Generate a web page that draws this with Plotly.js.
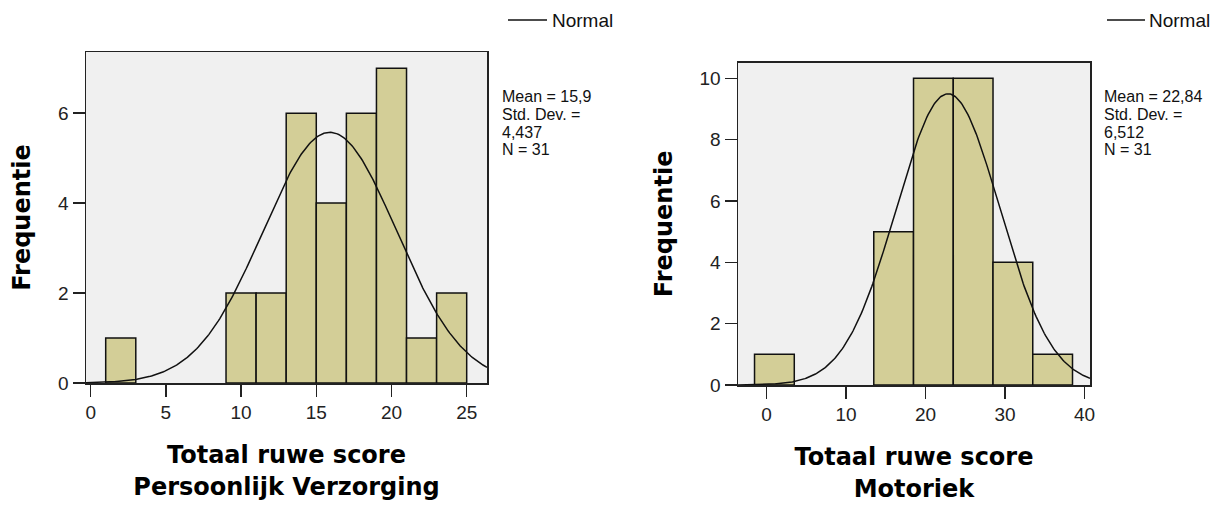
<!DOCTYPE html>
<html>
<head>
<meta charset="utf-8">
<script src="https://cdn.plot.ly/plotly-3.0.1.min.js"></script>
<style>html,body{margin:0;padding:0;background:#fff;}#chart{width:1225px;height:507px;}</style>
</head>
<body>
<div id="chart"></div>
<script>
// ---- data ----
const leftBinStarts = [1, 9, 11, 13, 15, 17, 19, 21, 23];
const leftCounts    = [1, 2, 2, 6, 4, 6, 7, 1, 2];
const leftBinWidth  = 2;
const leftMean = 15.9, leftSD = 4.437, leftN = 31;
const leftStatLines = ["Mean = 15,9", "Std. Dev. =", "4,437", "N = 31"];
const leftXTitle = "Totaal ruwe score<br>Persoonlijk Verzorging";

const rightBinStarts = [-1.5, 13.5, 18.5, 23.5, 28.5, 33.5];
const rightCounts    = [1, 5, 10, 10, 4, 1];
const rightBinWidth  = 5;
const rightMean = 22.84, rightSD = 6.512, rightN = 31;
const rightStatLines = ["Mean = 22,84", "Std. Dev. =", "6,512", "N = 31"];
const rightXTitle = "Totaal ruwe score<br>Motoriek";

const yTitle = "Frequentie";
const legendLabel = "Normal";

// ---- helpers ----
const W = 1225, H = 507;
const px = v => v / W;
const py = v => 1 - v / H;
const barFill = '#d3ce97';

function normalCurve(mean, sd, n, bw, x0, x1) {
  const xs = [], ys = [];
  const steps = 300;
  for (let i = 0; i <= steps; i++) {
    const x = x0 + (x1 - x0) * i / steps;
    const z = (x - mean) / sd;
    xs.push(x);
    ys.push(n * bw * Math.exp(-0.5 * z * z) / (sd * Math.sqrt(2 * Math.PI)));
  }
  return {xs, ys};
}

const leftRange = [-0.31, 26.35];
const rightRange = [-3.58, 40.7];
const lc = normalCurve(leftMean, leftSD, leftN, leftBinWidth, leftRange[0], leftRange[1]);
const rc = normalCurve(rightMean, rightSD, rightN, rightBinWidth, rightRange[0], rightRange[1]);

const traces = [
  {type: 'bar', x: leftBinStarts.map(s => s + leftBinWidth / 2), y: leftCounts,
   width: leftBinWidth, xaxis: 'x', yaxis: 'y',
   marker: {color: barFill, line: {color: '#111', width: 1.5}}, showlegend: false, hoverinfo: 'x+y'},
  {type: 'scatter', mode: 'lines', x: lc.xs, y: lc.ys, xaxis: 'x', yaxis: 'y',
   line: {color: '#111', width: 1.5}, name: legendLabel, showlegend: false},
  {type: 'bar', x: rightBinStarts.map(s => s + rightBinWidth / 2), y: rightCounts,
   width: rightBinWidth, xaxis: 'x2', yaxis: 'y2',
   marker: {color: barFill, line: {color: '#111', width: 1.5}}, showlegend: false, hoverinfo: 'x+y'},
  {type: 'scatter', mode: 'lines', x: rc.xs, y: rc.ys, xaxis: 'x2', yaxis: 'y2',
   line: {color: '#111', width: 1.5}, name: legendLabel, showlegend: false}
];

const tickFont = {family: 'Liberation Sans, Arial, sans-serif', size: 19, color: '#222'};
const titleFont = {family: 'DejaVu Sans, sans-serif', size: 24, color: '#000', weight: 'bold'};

function xAxis(domain, range, dtick, title, anchor) {
  return {domain, range, dtick, tick0: 0, anchor, showgrid: false, zeroline: false,
    showline: true, mirror: true, linecolor: '#222', linewidth: 1.5,
    ticks: 'outside', ticklen: 12, tickwidth: 1.5, tickcolor: '#222',
    tickfont: tickFont, fixedrange: true,
    title: {text: title, font: titleFont, standoff: 24}};
}
function yAxis(domain, range, title, anchor) {
  return {domain, range, dtick: 2, tick0: 0, anchor, showgrid: false, zeroline: false,
    showline: true, mirror: true, linecolor: '#222', linewidth: 1.5,
    ticks: 'outside', ticklen: 12, tickwidth: 1.5, tickcolor: '#222',
    tickfont: tickFont, fixedrange: true,
    title: {text: title, font: titleFont, standoff: 20}};
}

const annotations = [];
const statYs = [97, 114.5, 132, 149.5];
function addStats(lines, x) {
  lines.forEach((t, i) => annotations.push({
    xref: 'paper', yref: 'paper', x: px(x), y: py(statYs[i]), xanchor: 'left', yanchor: 'middle',
    text: t, showarrow: false, font: {family: 'Liberation Sans, Arial, sans-serif', size: 16, color: '#111'}
  }));
}
addStats(leftStatLines, 500);
addStats(rightStatLines, 1102);

const shapes = [];
function addLegend(x0, x1, tx) {
  shapes.push({type: 'line', xref: 'paper', yref: 'paper', x0: px(x0), x1: px(x1), y0: py(20), y1: py(20),
    line: {color: '#111', width: 1.5}});
  annotations.push({xref: 'paper', yref: 'paper', x: px(tx), y: py(21), xanchor: 'left', yanchor: 'middle',
    text: legendLabel, showarrow: false, font: {family: 'Liberation Sans, Arial, sans-serif', size: 19, color: '#111'}});
}
addLegend(508, 547, 550);
addLegend(1107, 1145, 1147);

const layout = {
  width: W, height: H,
  margin: {l: 0, r: 0, t: 0, b: 0},
  paper_bgcolor: '#ffffff',
  plot_bgcolor: '#f0f0f0',
  bargap: 0,
  showlegend: false,
  xaxis: xAxis([px(86), px(487)], leftRange, 5, leftXTitle, 'y'),
  yaxis: yAxis([1 - 383 / H, 1 - 52 / H], [0, 7.36], yTitle, 'x'),
  xaxis2: xAxis([px(738), px(1090)], rightRange, 10, rightXTitle, 'y2'),
  yaxis2: yAxis([1 - 385 / H, 1 - 62.7 / H], [0, 10.51], yTitle, 'x2'),
  annotations, shapes
};

Plotly.newPlot('chart', traces, layout, {displayModeBar: false, staticPlot: true});
</script>
</body>
</html>
